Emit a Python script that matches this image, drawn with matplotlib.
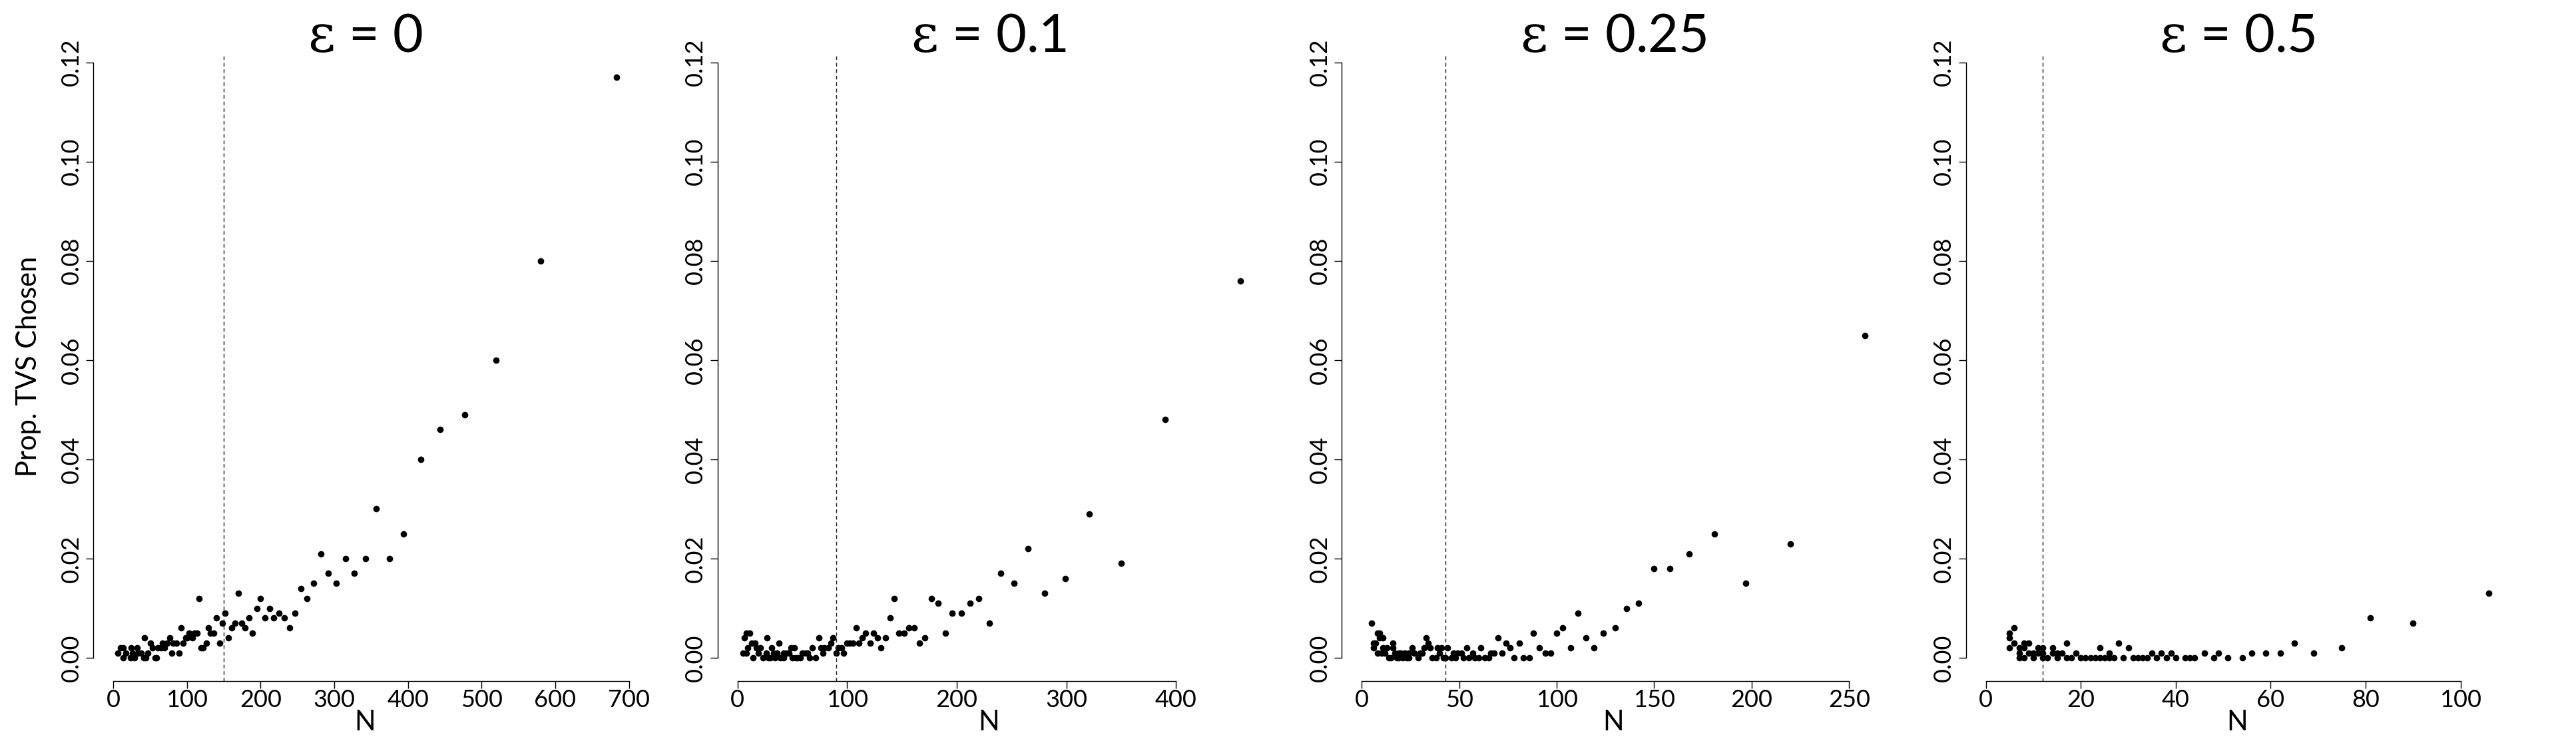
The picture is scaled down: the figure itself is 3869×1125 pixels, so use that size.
import numpy as np
import matplotlib
matplotlib.use("Agg")
import matplotlib.pyplot as plt

# values, proportions in units of 0.001
# eps = 0
n_eps0 = [6, 10, 13, 13, 17, 23, 24, 26, 29, 32, 33, 38, 41, 42, 44, 47, 50, 53, 57, 59,
          60, 65, 67, 69, 73, 77, 79, 81, 86, 89, 92, 95, 98, 100, 103, 107, 110, 114, 116, 119,
          122, 126, 129, 132, 136, 140, 144, 148, 152, 156, 161, 165, 170, 174, 179, 184, 189, 195, 200, 206,
          212, 218, 225, 232, 239, 247, 255, 263, 272, 282, 292, 303, 315, 327, 342, 357, 375, 394, 417, 444,
          477, 520, 580, 683]
p_eps0 = [1, 2, 2, 0, 1, 0, 2, 1, 0, 2, 1, 1, 0, 4, 0, 1, 3, 2, 0, 0,
          2, 2, 3, 2, 3, 4, 1, 3, 3, 1, 6, 3, 4, 4, 5, 4, 5, 5, 12, 2,
          2, 3, 6, 5, 5, 8, 3, 7, 9, 4, 6, 7, 13, 7, 6, 8, 5, 10, 12, 8,
          10, 8, 9, 8, 6, 9, 14, 12, 15, 21, 17, 15, 20, 17, 20, 30, 20, 25, 40, 46,
          49, 60, 80, 117]

# eps = 0.1
n_eps01 = [5, 8, 6, 8, 11, 9, 13, 14, 16, 17, 19, 21, 23, 26, 27, 28, 31, 30, 33, 34,
           36, 38, 39, 42, 42, 45, 47, 49, 50, 52, 53, 55, 57, 59, 62, 64, 66, 68, 71, 74,
           76, 78, 79, 83, 85, 87, 90, 92, 95, 97, 100, 102, 105, 108, 111, 114, 117, 121, 124, 128,
           131, 135, 139, 143, 147, 152, 156, 161, 166, 171, 177, 183, 190, 196, 204, 212, 220, 230, 240, 252,
           265, 280, 299, 321, 350, 390, 459]
p_eps01 = [1, 1, 4, 5, 5, 2, 3, 0, 3, 2, 1, 2, 0, 1, 4, 0, 2, 0, 1, 0,
           1, 3, 0, 1, 0, 1, 1, 2, 0, 2, 0, 0, 0, 1, 1, 1, 0, 2, 0, 4,
           2, 1, 2, 2, 3, 4, 1, 2, 2, 1, 3, 3, 3, 6, 3, 4, 5, 3, 5, 4,
           2, 4, 8, 12, 5, 5, 6, 6, 3, 4, 12, 11, 5, 9, 9, 11, 12, 7, 17, 15,
           22, 13, 16, 29, 19, 48, 76]

# eps = 0.25
n_eps025 = [5, 6, 6, 7, 8, 9, 8, 9, 10, 11, 11, 12, 13, 14, 16, 16, 15, 17, 18, 19,
            19, 20, 21, 22, 23, 24, 24, 26, 27, 29, 30, 31, 32, 33, 34, 35, 36, 38, 39, 40,
            41, 42, 43, 44, 46, 47, 48, 49, 51, 52, 54, 55, 57, 58, 60, 61, 63, 65, 66, 68,
            70, 72, 74, 76, 78, 81, 83, 86, 88, 91, 94, 97, 100, 103, 107, 111, 115, 119, 124, 130,
            136, 142, 150, 158, 168, 181, 197, 220, 258]
p_eps025 = [7, 3, 2, 3, 5, 5, 1, 4, 1, 4, 2, 1, 2, 0, 3, 2, 0, 1, 0, 1,
            0, 1, 0, 1, 0, 1, 0, 2, 1, 0, 1, 1, 2, 4, 3, 2, 0, 0, 2, 1,
            2, 0, 0, 2, 0, 1, 0, 1, 1, 0, 2, 0, 1, 0, 0, 2, 0, 0, 1, 1,
            4, 1, 3, 2, 0, 3, 0, 0, 5, 2, 1, 1, 5, 6, 2, 9, 4, 2, 5, 6,
            10, 11, 18, 18, 21, 25, 15, 23, 65]

# eps = 0.5
n_eps05 = [5, 5, 5, 6, 6, 7, 7, 7, 8, 8, 8, 9, 9, 10, 10, 11, 11, 12, 12, 12,
           13, 14, 14, 15, 15, 16, 17, 17, 18, 19, 20, 21, 22, 23, 24, 24, 25, 26, 26, 27,
           28, 29, 30, 31, 32, 33, 34, 35, 36, 37, 38, 39, 40, 42, 43, 44, 46, 48, 49, 51,
           54, 56, 59, 62, 65, 69, 75, 81, 90, 106]
p_eps05 = [2, 4, 5, 6, 3, 2, 1, 0, 3, 2, 0, 3, 1, 1, 0, 2, 1, 2, 1, 0,
           0, 2, 1, 0, 1, 1, 3, 0, 0, 1, 0, 0, 0, 0, 2, 0, 0, 1, 0, 0,
           3, 0, 2, 0, 0, 0, 0, 1, 0, 1, 0, 1, 0, 0, 0, 0, 1, 0, 1, 0,
           0, 1, 1, 1, 3, 1, 2, 8, 7, 13]

titles = ["0", "0.1", "0.25", "0.5"]
cutoffs = [150, 90, 43, 12]
x_ticks = [np.arange(0, 701, 100), np.arange(0, 401, 100), np.arange(0, 251, 50), np.arange(0, 101, 20)]
y_ticks = [0.0, 0.02, 0.04, 0.06, 0.08, 0.10, 0.12]

panels = [(n_eps0, p_eps0), (n_eps01, p_eps01), (n_eps025, p_eps025), (n_eps05, p_eps05)]

plt.rcParams["font.family"] = ["Lato", "DejaVu Sans"]
plt.rcParams["mathtext.fontset"] = "dejavuserif"

W, H = 3869, 1125
fig = plt.figure(figsize=(W / 100, H / 100), dpi=100)

# shared y range, padded like R's default 4%
y_max = max(max(p) for _, p in panels) / 1000.0

for i, (n, p) in enumerate(panels):
    n = np.array(n, dtype=float)
    p = np.array(p, dtype=float) / 1000.0

    left = (140 + i * 937.5) / W
    ax = fig.add_axes([left, (H - 1023) / H, 816 / W, (1023 - 81) / H])

    ax.plot(n, p, "o", ms=7.0, color="black", mew=0)
    ax.axvline(cutoffs[i], ls=(0, (4, 3)), lw=1.0, color="#1a1a1a")

    n_max = n.max()
    ax.set_xlim(-0.04 * n_max, 1.04 * n_max)
    ax.set_ylim(-0.04 * y_max, 1.04 * y_max)

    for s in ["top", "right"]:
        ax.spines[s].set_visible(False)
    ax.spines["left"].set_bounds(0, 0.12)
    ax.spines["bottom"].set_bounds(x_ticks[i][0], x_ticks[i][-1])
    for s in ["left", "bottom"]:
        ax.spines[s].set_linewidth(1.0)

    ax.set_xticks(x_ticks[i])
    ax.set_xticklabels([str(v) for v in x_ticks[i]])
    ax.set_yticks(y_ticks)
    ax.set_yticklabels(["%.2f" % v for v in y_ticks], rotation=90, va="center")

    ax.tick_params(axis="both", direction="out", length=7.7, width=1.0, labelsize=26)
    ax.tick_params(axis="y", pad=4)
    ax.tick_params(axis="x", pad=1)

    # panel title and x label, centred over the plot region
    cx = left + 408 / W
    fig.text(cx, 1 - 78 / H, r"$\mathrm{\varepsilon}$ = " + titles[i], ha="center", va="baseline", fontsize=57)
    fig.text(cx, 1 - 1097 / H, "N", ha="center", va="baseline", fontsize=30)

fig.text(43 / W, 1 - 550 / H, "Prop. TVS Chosen", rotation=90, ha="center", va="center", fontsize=30)

fig.savefig("out.png", dpi=100)
